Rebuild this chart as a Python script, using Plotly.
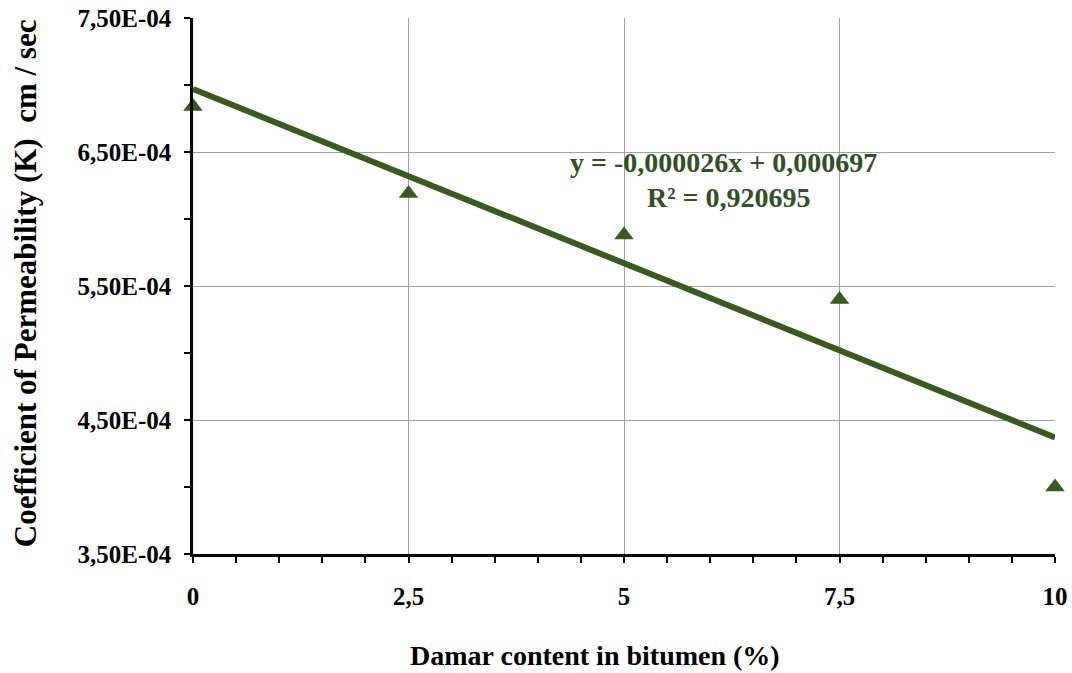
import plotly.graph_objects as go

# Data
damar_pct = [0, 2.5, 5, 7.5, 10]
permeability = [6.84e-4, 6.19e-4, 5.88e-4, 5.40e-4, 4.00e-4]
trend_slope = -0.000026
trend_intercept = 0.000697
trend_x = [0, 10]
trend_y = [trend_intercept + trend_slope * x for x in trend_x]

x_tickvals = [0, 2.5, 5, 7.5, 10]
x_ticktext = ["0", "2,5", "5", "7,5", "10"]
y_tickvals = [3.5e-4, 4.5e-4, 5.5e-4, 6.5e-4, 7.5e-4]
y_ticktext = ["3,50E-04", "4,50E-04", "5,50E-04", "6,50E-04", "7,50E-04"]

GREEN = "#3a5a22"
TEXT_GREEN = "#34502a"
FONT = "Liberation Serif"

fig = go.Figure()
fig.add_trace(go.Scatter(x=trend_x, y=trend_y, mode="lines",
                         line=dict(color=GREEN, width=6), cliponaxis=False,
                         showlegend=False, hoverinfo="skip"))
fig.add_trace(go.Scatter(x=damar_pct, y=permeability, mode="markers",
                         marker=dict(symbol="triangle-up", size=17, color=GREEN),
                         cliponaxis=False, showlegend=False))

fig.update_layout(
    width=1072, height=673,
    margin=dict(l=193, r=17, t=18, b=119),
    paper_bgcolor="white", plot_bgcolor="white",
    font=dict(family=FONT, color="black"),
)
fig.update_xaxes(
    range=[0, 10], tickvals=x_tickvals, ticktext=x_ticktext,
    automargin=False,
    showgrid=True, gridcolor="#a0a0a0", gridwidth=1,
    showline=True, linecolor="black", linewidth=2.5,
    ticks="outside", ticklen=6, tickwidth=2, tickcolor="black",
    ticklabelstandoff=12,
    tickfont=dict(family=FONT, size=25, color="black", weight="bold"),
    minor=dict(dtick=0.5, tick0=0, ticks="outside", ticklen=6, tickwidth=2,
               tickcolor="black", showgrid=False),
    zeroline=False,
)
fig.update_yaxes(
    range=[3.5e-4, 7.5e-4], tickvals=y_tickvals, ticktext=y_ticktext,
    automargin=False,
    showgrid=True, gridcolor="#a0a0a0", gridwidth=1,
    showline=True, linecolor="black", linewidth=2.5,
    ticks="outside", ticklen=6, tickwidth=2, tickcolor="black",
    ticklabelstandoff=8,
    tickfont=dict(family=FONT, size=25, color="black", weight="bold"),
    minor=dict(dtick=0.5e-4, tick0=3.5e-4, ticks="outside", ticklen=6, tickwidth=2,
               tickcolor="black", showgrid=False),
    zeroline=False,
)

fig.add_annotation(xref="paper", yref="paper", x=-0.195, y=0.505,
                   xanchor="center", yanchor="middle",
                   text="<b>Coefficient of Permeability (K)  cm / sec</b>",
                   textangle=-90, showarrow=False,
                   font=dict(family=FONT, size=31, color="black"))
fig.add_annotation(xref="paper", yref="paper", x=0.466, y=-0.19,
                   xanchor="center", yanchor="middle",
                   text="<b>Damar content in bitumen (%)</b>",
                   showarrow=False,
                   font=dict(family=FONT, size=28, color="black"))
fig.add_annotation(xref="paper", yref="paper", x=0.615, y=0.731,
                   xanchor="center", yanchor="middle",
                   text="<b>y = -0,000026x + 0,000697</b>",
                   showarrow=False,
                   font=dict(family=FONT, size=28, color=TEXT_GREEN))
fig.add_annotation(xref="paper", yref="paper", x=0.622, y=0.666,
                   xanchor="center", yanchor="middle",
                   text="<b>R² = 0,920695</b>",
                   showarrow=False,
                   font=dict(family=FONT, size=28, color=TEXT_GREEN))

fig.write_html("out.html")
